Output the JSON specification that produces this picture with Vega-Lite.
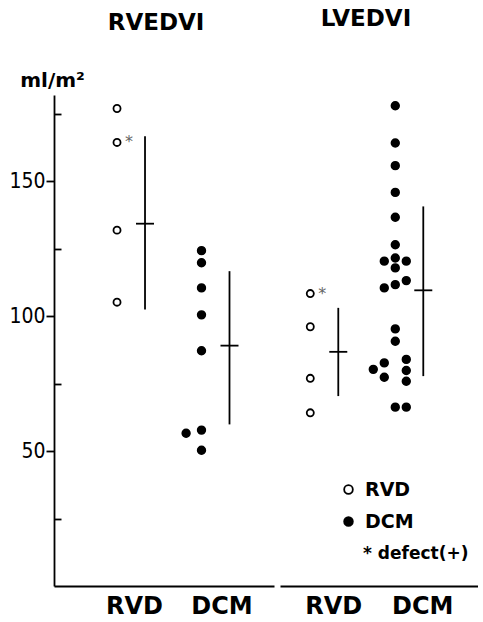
{
  "$schema": "https://vega.github.io/schema/vega-lite/v6.json",
  "padding": {"left": 8, "top": 8, "right": 0, "bottom": 0},
  "spacing": 6,
  "config": {
    "view": {"stroke": null},
    "font": "DejaVu Sans",
    "legend": {"padding": 0},
    "axisX": {
      "title": null, "ticks": false, "domainWidth": 1.8, "domainColor": "black",
      "labelFont": "DejaVu Sans", "labelFontWeight": "bold", "labelFontSize": 24,
      "labelColor": "black", "labelPadding": 8, "labelAngle": 0, "grid": false
    }
  },
  "datasets": {
    "pts": [
      {"panel": "RVEDVI", "group": "RVD", "value": 177.0, "col": 0, "note": null},
      {"panel": "RVEDVI", "group": "RVD", "value": 164.4, "col": 0, "note": "defect(+)"},
      {"panel": "RVEDVI", "group": "RVD", "value": 131.9, "col": 0, "note": null},
      {"panel": "RVEDVI", "group": "RVD", "value": 105.2, "col": 0, "note": null},
      {"panel": "RVEDVI", "group": "DCM", "value": 124.3, "col": 0, "note": null},
      {"panel": "RVEDVI", "group": "DCM", "value": 119.8, "col": 0, "note": null},
      {"panel": "RVEDVI", "group": "DCM", "value": 110.5, "col": 0, "note": null},
      {"panel": "RVEDVI", "group": "DCM", "value": 100.5, "col": 0, "note": null},
      {"panel": "RVEDVI", "group": "DCM", "value": 87.2, "col": 0, "note": null},
      {"panel": "RVEDVI", "group": "DCM", "value": 57.8, "col": 0, "note": null},
      {"panel": "RVEDVI", "group": "DCM", "value": 56.6, "col": -1.4, "note": null},
      {"panel": "RVEDVI", "group": "DCM", "value": 50.3, "col": 0, "note": null},
      {"panel": "LVEDVI", "group": "RVD", "value": 108.4, "col": 0, "note": "defect(+)"},
      {"panel": "LVEDVI", "group": "RVD", "value": 96.1, "col": 0, "note": null},
      {"panel": "LVEDVI", "group": "RVD", "value": 77.0, "col": 0, "note": null},
      {"panel": "LVEDVI", "group": "RVD", "value": 64.2, "col": 0, "note": null},
      {"panel": "LVEDVI", "group": "DCM", "value": 178.0, "col": 0, "note": null},
      {"panel": "LVEDVI", "group": "DCM", "value": 164.2, "col": 0, "note": null},
      {"panel": "LVEDVI", "group": "DCM", "value": 155.8, "col": 0, "note": null},
      {"panel": "LVEDVI", "group": "DCM", "value": 145.9, "col": 0, "note": null},
      {"panel": "LVEDVI", "group": "DCM", "value": 136.7, "col": 0, "note": null},
      {"panel": "LVEDVI", "group": "DCM", "value": 126.5, "col": 0, "note": null},
      {"panel": "LVEDVI", "group": "DCM", "value": 121.6, "col": 0, "note": null},
      {"panel": "LVEDVI", "group": "DCM", "value": 120.4, "col": -1, "note": null},
      {"panel": "LVEDVI", "group": "DCM", "value": 120.4, "col": 1, "note": null},
      {"panel": "LVEDVI", "group": "DCM", "value": 117.9, "col": 0, "note": null},
      {"panel": "LVEDVI", "group": "DCM", "value": 113.2, "col": 1, "note": null},
      {"panel": "LVEDVI", "group": "DCM", "value": 111.7, "col": 0, "note": null},
      {"panel": "LVEDVI", "group": "DCM", "value": 110.5, "col": -1, "note": null},
      {"panel": "LVEDVI", "group": "DCM", "value": 95.3, "col": 0, "note": null},
      {"panel": "LVEDVI", "group": "DCM", "value": 90.7, "col": 0, "note": null},
      {"panel": "LVEDVI", "group": "DCM", "value": 84.0, "col": 1, "note": null},
      {"panel": "LVEDVI", "group": "DCM", "value": 82.7, "col": -1, "note": null},
      {"panel": "LVEDVI", "group": "DCM", "value": 80.3, "col": -2, "note": null},
      {"panel": "LVEDVI", "group": "DCM", "value": 79.9, "col": 1, "note": null},
      {"panel": "LVEDVI", "group": "DCM", "value": 77.4, "col": -1, "note": null},
      {"panel": "LVEDVI", "group": "DCM", "value": 75.9, "col": 1, "note": null},
      {"panel": "LVEDVI", "group": "DCM", "value": 66.3, "col": 0, "note": null},
      {"panel": "LVEDVI", "group": "DCM", "value": 66.3, "col": 1, "note": null}
    ],
    "stats": [
      {"panel": "RVEDVI", "group": "RVD", "mean": 134.3, "lo": 102.5, "hi": 166.7},
      {"panel": "RVEDVI", "group": "DCM", "mean": 89.1, "lo": 59.9, "hi": 116.7},
      {"panel": "LVEDVI", "group": "RVD", "mean": 86.8, "lo": 70.4, "hi": 103.1},
      {"panel": "LVEDVI", "group": "DCM", "mean": 109.6, "lo": 77.8, "hi": 140.7}
    ]
  },
  "hconcat": [
    {
      "width": 220,
      "height": 491,
      "title": {"text": "RVEDVI", "font": "DejaVu Sans", "fontSize": 23, "fontWeight": "bold", "color": "black", "anchor": "middle", "frame": "group", "dx": -8, "offset": 35},
      "encoding": {
        "x": {
          "field": "group", "type": "nominal",
          "scale": {"type": "point", "domain": ["RVD", "DCM"], "padding": 0.802, "align": 0.465},
          "axis": {"labelOffset": {"condition": {"test": "datum.value === 'RVD'", "value": 17}, "value": 20}}
        }
      },
      "layer": [
        {
          "data": {"name": "stats"},
          "transform": [{"filter": "datum.panel === 'RVEDVI'"}],
          "mark": {"type": "rule", "xOffset": 28, "strokeWidth": 1.8, "color": "black"},
          "encoding": {
            "y": {
              "field": "lo", "type": "quantitative", "title": "ml/m²",
              "scale": {"domain": [0, 182], "nice": false, "zero": false},
              "axis": {
                "values": [25, 50, 75, 100, 125, 150, 175],
                "tickSize": {"condition": {"test": "datum.value % 50 === 0", "value": 8}, "value": -7},
                "labelExpr": "datum.value % 50 === 0 ? datum.label : ''",
                "labelOverlap": false,
                "labelFont": "DejaVu Sans Condensed, DejaVu Sans, sans-serif",
                "labelFontSize": 21, "labelPadding": 1, "labelColor": "black",
                "domainWidth": 1.8, "domainColor": "black", "tickWidth": 1.8, "tickColor": "black",
                "grid": false,
                "titleAngle": 0, "titleX": -2, "titleY": -9, "titleAlign": "center", "titleBaseline": "alphabetic",
                "titleFont": "DejaVu Sans", "titleFontSize": 20, "titleFontWeight": "bold", "titleColor": "black"
              }
            },
            "y2": {"field": "hi"}
          }
        },
        {
          "data": {"name": "stats"},
          "transform": [{"filter": "datum.panel === 'RVEDVI'"}],
          "mark": {"type": "tick", "orient": "horizontal", "xOffset": 28, "size": 18, "thickness": 1.8, "color": "black", "opacity": 1},
          "encoding": {"y": {"field": "mean", "type": "quantitative", "title": "ml/m²"}}
        },
        {
          "data": {"name": "pts"},
          "transform": [{"filter": "datum.panel === 'RVEDVI' && datum.group === 'RVD'"}],
          "mark": {"type": "point", "shape": "circle", "filled": true, "stroke": "black", "strokeWidth": 1.8, "size": 50, "opacity": 1},
          "encoding": {
            "y": {"field": "value", "type": "quantitative", "title": "ml/m²"},
            "xOffset": {"field": "col", "type": "quantitative", "scale": {"domain": [-2, 2], "range": [-22, 22]}},
            "fill": {
              "field": "group", "type": "nominal",
              "scale": {"domain": ["RVD", "DCM"], "range": ["white", "black"]},
              "legend": {
                "title": null, "orient": "none", "legendX": 285, "legendY": 385,
                "symbolType": "circle", "symbolSize": 75, "symbolStrokeColor": "black", "symbolStrokeWidth": 1.8,
                "labelFont": "DejaVu Sans", "labelFontWeight": "bold", "labelFontSize": 19, "labelColor": "black",
                "labelOffset": 7, "rowPadding": 12
              }
            }
          }
        },
        {
          "data": {"name": "pts"},
          "transform": [{"filter": "datum.panel === 'RVEDVI' && datum.group === 'DCM'"}],
          "mark": {"type": "point", "shape": "circle", "filled": true, "stroke": "black", "strokeWidth": 1.5, "size": 62, "opacity": 1},
          "encoding": {
            "y": {"field": "value", "type": "quantitative", "title": "ml/m²"},
            "xOffset": {"field": "col", "type": "quantitative", "scale": {"domain": [-2, 2], "range": [-22, 22]}},
            "fill": {"field": "group", "type": "nominal"}
          }
        },
        {
          "data": {"name": "pts"},
          "transform": [{"filter": "datum.panel === 'RVEDVI' && datum.note !== null"}],
          "mark": {"type": "text", "text": "*", "dx": 12, "dy": 5, "baseline": "alphabetic", "fontSize": 16, "color": "#666"},
          "encoding": {
            "y": {"field": "value", "type": "quantitative", "title": "ml/m²"},
            "xOffset": {"field": "col", "type": "quantitative", "scale": {"domain": [-2, 2], "range": [-22, 22]}},
            "opacity": {
              "field": "note", "type": "nominal",
              "scale": {"domain": ["defect(+)"], "range": [1]},
              "legend": {
                "title": null, "orient": "none", "legendX": 292, "legendY": 450,
                "symbolType": "M0,0L0,0", "symbolSize": 1, "symbolStrokeWidth": 0,
                "symbolFillColor": "transparent", "symbolStrokeColor": "transparent",
                "labelFont": "DejaVu Sans", "labelFontWeight": "bold", "labelFontSize": 17, "labelColor": "black",
                "labelOffset": 0,
                "labelExpr": "'* ' + datum.label"
              }
            }
          }
        }
      ]
    },
    {
      "width": 198,
      "height": 491,
      "title": {"text": "LVEDVI", "font": "DejaVu Sans", "fontSize": 23, "fontWeight": "bold", "color": "black", "anchor": "middle", "frame": "group", "dx": -13, "offset": 64},
      "encoding": {
        "x": {
          "field": "group", "type": "nominal",
          "scale": {"type": "point", "domain": ["RVD", "DCM"], "padding": 0.6647, "align": 0.268},
          "axis": {"labelOffset": {"condition": {"test": "datum.value === 'RVD'", "value": 23}, "value": 27}}
        }
      },
      "layer": [
        {
          "data": {"name": "stats"},
          "transform": [{"filter": "datum.panel === 'LVEDVI'"}],
          "mark": {"type": "rule", "xOffset": 28, "strokeWidth": 1.8, "color": "black"},
          "encoding": {
            "y": {"field": "lo", "type": "quantitative", "scale": {"domain": [0, 182], "nice": false, "zero": false}, "axis": null},
            "y2": {"field": "hi"}
          }
        },
        {
          "data": {"name": "stats"},
          "transform": [{"filter": "datum.panel === 'LVEDVI'"}],
          "mark": {"type": "tick", "orient": "horizontal", "xOffset": 28, "size": 18, "thickness": 1.8, "color": "black", "opacity": 1},
          "encoding": {"y": {"field": "mean", "type": "quantitative", "axis": null}}
        },
        {
          "data": {"name": "pts"},
          "transform": [{"filter": "datum.panel === 'LVEDVI' && datum.group === 'RVD'"}],
          "mark": {"type": "point", "shape": "circle", "filled": true, "stroke": "black", "strokeWidth": 1.8, "size": 50, "opacity": 1},
          "encoding": {
            "y": {"field": "value", "type": "quantitative", "axis": null},
            "xOffset": {"field": "col", "type": "quantitative", "scale": {"domain": [-2, 2], "range": [-22, 22]}},
            "fill": {"field": "group", "type": "nominal"}
          }
        },
        {
          "data": {"name": "pts"},
          "transform": [{"filter": "datum.panel === 'LVEDVI' && datum.group === 'DCM'"}],
          "mark": {"type": "point", "shape": "circle", "filled": true, "stroke": "black", "strokeWidth": 1.5, "size": 62, "opacity": 1},
          "encoding": {
            "y": {"field": "value", "type": "quantitative", "axis": null},
            "xOffset": {"field": "col", "type": "quantitative", "scale": {"domain": [-2, 2], "range": [-22, 22]}},
            "fill": {"field": "group", "type": "nominal"}
          }
        },
        {
          "data": {"name": "pts"},
          "transform": [{"filter": "datum.panel === 'LVEDVI' && datum.note !== null"}],
          "mark": {"type": "text", "text": "*", "dx": 12, "dy": 5, "baseline": "alphabetic", "fontSize": 16, "color": "#666"},
          "encoding": {
            "y": {"field": "value", "type": "quantitative", "axis": null},
            "xOffset": {"field": "col", "type": "quantitative", "scale": {"domain": [-2, 2], "range": [-22, 22]}},
            "opacity": {"field": "note", "type": "nominal"}
          }
        }
      ]
    }
  ]
}
